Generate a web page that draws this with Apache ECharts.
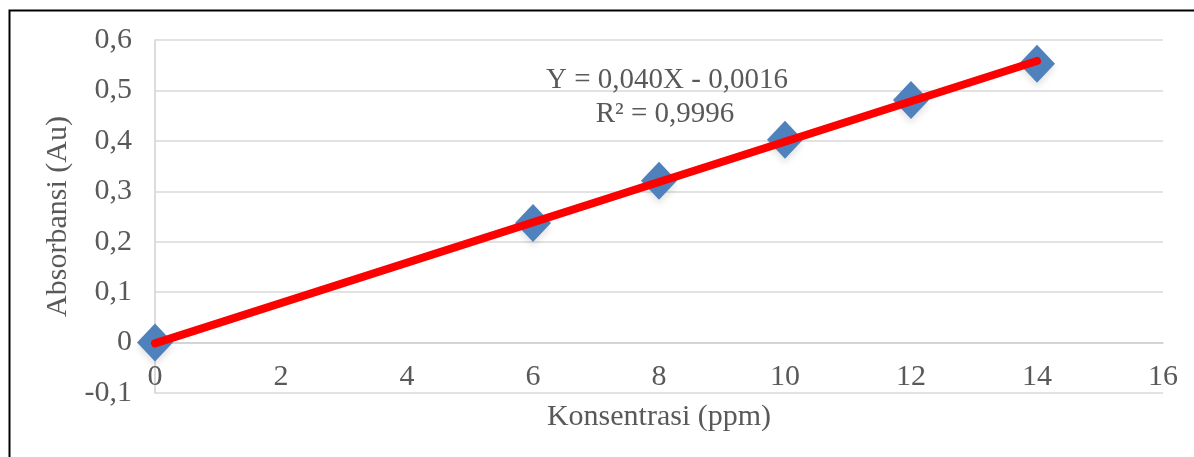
<!DOCTYPE html>
<html>
<head>
<meta charset="utf-8">
<script src="https://cdn.jsdelivr.net/npm/echarts@6/dist/echarts.min.js"></script>
<style>
html,body{margin:0;padding:0;background:#fff;}
#c{width:1194px;height:457px;}
</style>
</head>
<body>
<div id="c"></div>
<script>
const concX = [0, 6, 8, 10, 12, 14];
const absY = [0, 0.237, 0.321, 0.402, 0.481, 0.553];
const trendX = [0, 14];
const trendY = [-0.0016, 0.5584];
const equationText = 'Y = 0,040X - 0,0016';
const r2Text = 'R² = 0,9996';
const xTitle = 'Konsentrasi (ppm)';
const yTitle = 'Absorbansi (Au)';

const font = '"Liberation Serif", "Times New Roman", serif';
const txtColor = '#595959';
const fs = 30;
const chart = echarts.init(document.getElementById('c'), null, {renderer: 'canvas'});
chart.setOption({
  animation: false,
  backgroundColor: '#ffffff',
  grid: {left: 155, right: 31, top: 40, bottom: 64, containLabel: false, outerBoundsMode: 'none'},
  xAxis: {
    type: 'value', min: 0, max: 16, interval: 2,
    position: 'bottom', offset: -50.4,
    name: xTitle, nameLocation: 'middle', nameGap: 60,
    nameTextStyle: {fontFamily: font, fontSize: fs, color: txtColor},
    axisLine: {show: true, onZero: false, lineStyle: {color: '#d0d0d0', width: 1.5}},
    axisTick: {show: false},
    splitLine: {show: false},
    axisLabel: {fontFamily: font, fontSize: fs, color: txtColor, margin: 20}
  },
  yAxis: {
    type: 'value', min: -0.1, max: 0.6, interval: 0.1,
    name: yTitle, nameLocation: 'middle', nameGap: 71,
    nameTextStyle: {fontFamily: font, fontSize: fs, color: txtColor},
    axisLine: {show: true, onZero: false, lineStyle: {color: '#d0d0d0', width: 1.5}},
    axisTick: {show: false},
    splitLine: {show: true, lineStyle: {color: '#d9d9d9', width: 1.5}},
    axisLabel: {
      fontFamily: font, fontSize: fs, color: txtColor, margin: 23,
      formatter: v => String(Math.round(v * 10) / 10).replace('.', ',')
    }
  },
  graphic: [
    {type: 'rect', shape: {x: 9.5, y: 10.5, width: 1400, height: 600},
     style: {fill: 'none', stroke: '#000', lineWidth: 2}, z: 100, silent: true},
    {type: 'text', x: 667, y: 80, style: {text: equationText, font: '29px ' + font, fill: txtColor, align: 'center', verticalAlign: 'middle'}, z: 50},
    {type: 'text', x: 665, y: 114, style: {text: r2Text, font: '29px ' + font, fill: txtColor, align: 'center', verticalAlign: 'middle'}, z: 50}
  ],
  series: [
    {
      type: 'scatter', symbol: 'diamond', symbolSize: [36, 38], z: 2,
      itemStyle: {color: '#4f81bd', opacity: 1, shadowBlur: 6, shadowColor: 'rgba(0,0,0,0.10)', shadowOffsetY: 5},
      emphasis: {disabled: true},
      data: concX.map((x, i) => [x, absY[i]])
    },
    {
      type: 'line', z: 3, symbol: 'none',
      lineStyle: {color: '#ff0000', width: 8, cap: 'round'},
      data: trendX.map((x, i) => [x, trendY[i]])
    }
  ]
});
</script>
</body>
</html>
